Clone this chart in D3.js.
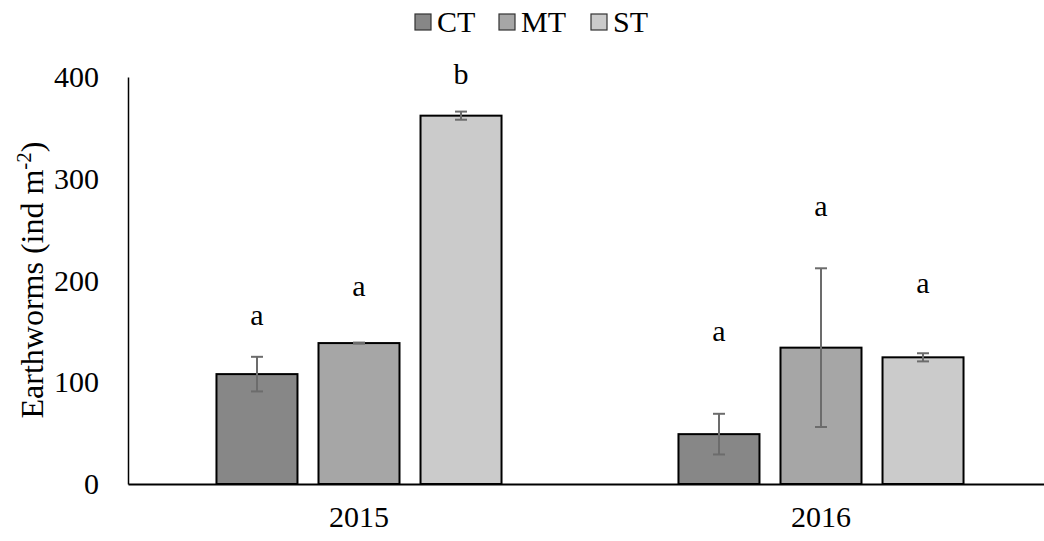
<!DOCTYPE html>
<html>
<head>
<meta charset="utf-8">
<script src="https://cdn.jsdelivr.net/npm/d3@7"></script>
<style>
  html, body { margin: 0; padding: 0; background: #fff; }
  svg { display: block; }
  text { font-family: "Liberation Serif", "Times New Roman", serif; fill: #000; }
</style>
</head>
<body>
<svg id="chart" width="1044" height="541"></svg>
<script>
// Earthworm density by tillage system and year
const years = ["2015", "2016"];
const treatments = ["CT", "MT", "ST"];
const means = {
  CT: [108, 49],
  MT: [138.5, 134],
  ST: [362, 124.5]
};
const errors = {
  CT: [17, 20],
  MT: [0.5, 78],
  ST: [4, 4]
};
// significance letters and the value height at which each is written
const letters = {
  CT: ["a", "a"],
  MT: ["a", "a"],
  ST: ["b", "a"]
};
const letterLevels = {
  CT: [166, 150],
  MT: [194, 273],
  ST: [403, 197]
};
const yTicks = [0, 100, 200, 300, 400];
const fills = { CT: "#878787", MT: "#a6a6a6", ST: "#cbcbcb" };

const svg = d3.select("#chart");
const FONT = 30;
const SERIF = "Liberation Serif";

const y = d3.scaleLinear().domain([0, 400]).range([484, 77]);
const x0 = d3.scaleBand().domain(years).range([128, 1052]).padding(0);
const groupW = x0.bandwidth() * 0.617;
const x1 = d3.scaleBand().domain(treatments)
  .range([(x0.bandwidth() - groupW) / 2, (x0.bandwidth() + groupW) / 2])
  .paddingInner(0.206).paddingOuter(0);

const rows = [];
years.forEach((yr, i) => treatments.forEach(t => rows.push({
  year: yr, t, v: means[t][i], e: errors[t][i], letter: letters[t][i], lv: letterLevels[t][i]
})));

// bars
svg.append("g").selectAll("rect").data(rows).join("rect")
  .attr("x", d => x0(d.year) + x1(d.t))
  .attr("y", d => y(d.v))
  .attr("width", x1.bandwidth())
  .attr("height", d => y(0) - y(d.v))
  .attr("fill", d => fills[d.t])
  .attr("stroke", "#000")
  .attr("stroke-width", 2);

// error bars
const eb = svg.append("g").attr("stroke", "#6c6c6c").attr("stroke-width", 2);
rows.forEach(d => {
  const cx = x0(d.year) + x1(d.t) + x1.bandwidth() / 2;
  const hi = y(d.v + d.e), lo = y(d.v - d.e);
  eb.append("line").attr("x1", cx).attr("x2", cx).attr("y1", hi).attr("y2", lo);
  eb.append("line").attr("x1", cx - 6).attr("x2", cx + 6).attr("y1", hi).attr("y2", hi);
  eb.append("line").attr("x1", cx - 6).attr("x2", cx + 6).attr("y1", lo).attr("y2", lo);
});

// letters
svg.append("g").selectAll("text").data(rows).join("text")
  .attr("x", d => x0(d.year) + x1(d.t) + x1.bandwidth() / 2)
  .attr("y", d => y(d.lv))
  .attr("dy", "0.32em")
  .attr("text-anchor", "middle")
  .attr("font-size", FONT)
  .text(d => d.letter);

// y axis
const yAxis = svg.append("g").attr("transform", "translate(128,0)")
  .call(d3.axisLeft(y).tickValues(yTicks).tickSize(0).tickPadding(29));
yAxis.attr("font-family", SERIF);
yAxis.select(".domain").attr("stroke", "#000").attr("stroke-width", 1.5);
yAxis.selectAll("text").attr("font-size", FONT);

// x axis
const xAxis = svg.append("g").attr("transform", "translate(0,484)")
  .call(d3.axisBottom(x0).tickSize(0).tickPadding(22));
xAxis.attr("font-family", SERIF);
xAxis.select(".domain").attr("stroke", "#000").attr("stroke-width", 2);
xAxis.selectAll("text").attr("font-size", FONT);

// y axis title
const yt = svg.append("text")
  .attr("transform", "translate(43,280) rotate(-90)")
  .attr("text-anchor", "middle")
  .attr("font-size", 32);
yt.append("tspan").text("Earthworms (ind m");
yt.append("tspan").attr("font-size", 21).attr("dy", -12).text("-2");
yt.append("tspan").attr("dy", 12).text(")");

// legend
const legendX = { CT: 415, MT: 499, ST: 591 };
const lg = svg.append("g");
treatments.forEach(t => {
  lg.append("rect").attr("x", legendX[t]).attr("y", 14).attr("width", 16).attr("height", 16)
    .attr("fill", fills[t]).attr("stroke", "#333").attr("stroke-width", 1.2);
  lg.append("text").attr("x", legendX[t] + 22).attr("y", 32)
    .attr("font-size", FONT).text(t);
});
</script>
</body>
</html>
